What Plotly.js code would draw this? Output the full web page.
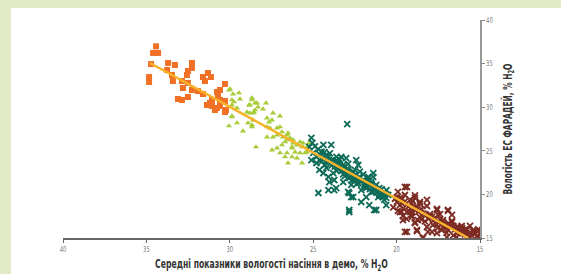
<!DOCTYPE html>
<html>
<head>
<meta charset="utf-8">
<script src="https://cdn.plot.ly/plotly-3.0.1.min.js"></script>
<style>
html,body{margin:0;padding:0;}
body{width:561px;height:274px;background:#e2ebc5;position:relative;overflow:hidden;}
#chart{position:absolute;left:11px;top:8px;width:550px;height:266px;background:#fff;}
</style>
</head>
<body>
<div id="chart"></div>
<script>
// Orange squares
const orangeX = [34.42,34.60,34.30,34.72,34.84,34.84,33.70,33.29,33.76,32.27,32.27,33.47,33.41,32.87,32.57,32.51,32.51,32.81,32.27,33.11,32.87,32.51,31.91,31.61,31.61,31.31,31.13,31.49,30.29,30.59,30.77,30.71,30.59,31.07,31.19,31.37,31.07,30.77,30.59,30.29,30.23,30.89,30.29];
const orangeY = [36.98,36.22,36.22,34.95,33.46,32.89,35.07,34.84,34.27,35.07,34.50,33.69,33.00,33.00,33.69,34.15,32.78,32.20,31.97,30.94,30.83,31.17,31.86,31.51,33.46,33.92,33.46,33.00,32.66,31.97,31.74,31.28,30.83,30.83,30.48,30.25,30.14,29.91,30.14,30.71,29.68,29.68,29.45];
// Green triangles
const greenX = [29.99,29.45,29.81,28.67,29.75,29.39,28.49,28.85,27.83,28.01,28.31,28.97,28.79,28.55,29.87,29.57,30.05,29.21,28.91,28.61,28.67,28.67,27.77,27.47,27.65,27.41,26.99,27.77,27.59,27.17,26.99,26.87,27.17,27.41,27.77,28.43,26.81,26.51,26.57,26.21,25.97,25.79,25.61,26.27,26.87,27.17,27.47,26.99,26.57,25.79,25.37,25.97,26.27,26.69,26.57,26.69,26.39,26.21,25.91,25.67,25.61,25.37,25.31,25.49,26.09,26.27,26.51,25.67,25.25,30.05,29.87,28.67,28.37,29.87,29.57,28.79,28.49,28.61,29.87];
const greenY = [32.09,31.63,31.51,31.06,30.60,30.94,30.48,30.25,30.48,29.79,30.02,29.45,29.33,29.45,28.88,28.19,27.85,27.27,28.19,28.53,27.96,27.73,28.76,28.53,28.30,29.33,28.99,27.73,27.61,27.61,27.73,27.16,26.81,26.58,26.58,25.44,26.58,27.04,26.24,26.24,25.67,26.01,25.44,25.32,25.67,25.32,25.09,24.75,24.75,24.75,24.86,24.17,24.29,24.29,26.81,26.01,26.47,25.89,25.67,25.44,25.89,25.44,25.09,24.75,24.86,25.44,23.60,23.60,25.89,31.97,30.83,30.83,30.48,30.25,29.91,30.25,29.68,29.33,28.99];
// Teal crosses
const tealX = [25.11,24.39,23.92,25.23,24.99,24.33,24.21,25.11,24.81,24.51,24.03,23.32,23.02,22.42,22.30,23.50,23.20,23.44,22.90,22.60,24.21,24.63,24.39,24.09,23.80,23.74,24.03,24.09,23.62,24.69,23.20,22.84,22.54,22.24,22.00,21.94,21.70,21.40,21.52,21.22,21.82,22.12,22.72,22.84,22.60,21.82,21.52,21.04,20.80,21.10,20.74,20.62,20.50,21.64,21.22,22.84,22.12,22.96,23.74,22.90,22.72,22.84,21.34,21.04,20.62,21.40,25.05,24.70,24.50,24.10,23.80,23.60,23.30,23.00,22.80,22.50,22.20,21.90,21.60,21.30,21.00,20.70,24.80,24.60,24.30,23.90,23.60,23.10,22.70,22.40,21.90,21.40,20.90,20.60,24.00,23.40,22.90,22.20,21.70,24.90,24.60,24.40,24.20,23.90,23.70,23.50,23.30,23.10,22.90,22.70,22.60,22.40,22.30,22.10,21.90,21.80,21.60,21.50,21.30,21.20,21.00,20.90,20.80,23.20,22.50,21.70,24.50,23.60,22.00];
const tealY = [26.47,25.67,25.67,25.44,24.75,24.86,24.52,23.94,23.60,23.72,23.72,24.29,24.17,23.94,23.37,23.60,23.37,23.03,22.80,22.57,23.03,22.80,22.45,22.00,22.45,21.65,21.42,20.50,20.73,20.16,21.42,21.88,21.65,22.00,21.65,21.08,22.00,22.45,21.42,21.08,20.73,20.50,21.08,20.16,19.70,19.70,20.28,20.73,20.16,19.70,19.36,18.78,19.93,18.78,18.21,18.21,19.13,28.07,20.50,20.28,19.70,17.98,18.21,19.93,19.59,22.00,25.90,25.20,24.90,24.30,24.00,23.90,23.00,22.90,22.40,22.20,21.90,21.40,21.00,20.70,20.40,20.10,24.30,23.90,23.40,23.30,22.70,22.10,21.60,21.20,20.90,20.30,19.80,20.50,24.70,24.00,23.50,22.60,21.80,25.50,24.60,24.00,23.80,23.90,23.20,23.30,22.70,23.20,22.60,22.30,22.00,21.80,21.30,21.50,21.20,20.80,20.60,21.20,20.90,20.20,20.00,20.60,19.70,22.30,22.80,21.50,24.20,24.30,22.30];
// Dark red crosses
const redX = [19.92,19.38,19.50,19.98,19.80,19.20,18.90,18.60,18.18,19.80,19.38,18.90,19.08,19.62,18.72,18.30,17.88,17.58,17.52,16.92,16.68,17.22,16.68,16.38,16.08,15.78,15.42,15.12,15.18,15.60,16.02,16.38,16.92,17.22,17.52,17.58,18.18,18.12,18.78,19.38,18.90,18.42,16.98,17.82,19.50,19.98,19.68,19.02,18.60,18.18,19.92,19.62,19.08,18.90,19.50,18.78,18.42,18.00,17.58,17.40,16.92,16.68,17.22,16.98,16.32,15.60,16.08,15.78,15.18,15.12,17.88,19.70,19.30,19.00,18.70,18.40,18.10,17.80,17.50,17.10,16.80,16.50,16.20,15.90,15.50,15.30,16.60,17.30,18.30,19.20,19.60,20.10,20.20,19.40,18.60,17.00,15.90,15.00,15.10,16.40,19.80,19.50,19.10,18.80,18.50,18.00,17.70,17.40,16.90,16.60,16.10,15.80,15.40,15.60,16.30,17.60,18.50,19.10,19.70,18.90];
const redY = [20.28,20.85,19.93,19.13,18.78,19.36,19.59,19.13,19.36,17.98,17.98,18.21,17.41,17.06,17.06,17.64,17.41,18.21,17.64,18.21,17.64,17.06,16.83,16.26,16.15,15.92,15.69,15.92,15.11,15.11,15.57,15.57,15.92,16.26,16.15,15.57,16.26,15.69,15.92,15.69,16.72,15.11,15.11,16.49,20.85,19.70,19.47,19.24,18.90,18.67,18.10,17.52,17.98,16.83,15.69,15.80,15.00,17.75,18.33,17.75,18.10,16.95,16.83,16.26,16.26,16.38,15.80,15.46,15.80,15.23,15.69,19.00,18.60,18.40,18.00,17.80,17.20,17.00,16.80,16.50,16.30,16.00,15.70,15.40,15.30,15.50,15.30,15.90,16.90,18.00,18.40,19.50,18.50,17.20,17.40,15.60,16.00,15.40,16.00,15.10,19.60,19.20,18.90,18.60,18.30,17.50,17.30,17.10,16.70,16.40,16.40,16.00,15.90,15.60,15.90,16.60,17.10,17.60,18.00,19.90];
// Trend line
const trendX = [34.78, 15.70];
const trendY = [35.07, 15.00];
const xTicks = [40, 35, 30, 25, 20, 15];
const yTicks = [15, 20, 25, 30, 35, 40];

const F = '"Liberation Sans Narrow", "DejaVu Sans Condensed", "Roboto", sans-serif';

const traces = [
  {x: orangeX, y: orangeY, mode: 'markers', type: 'scatter',
   marker: {symbol: 'square', size: 6, color: '#f07026'}},
  {x: greenX, y: greenY, mode: 'markers', type: 'scatter',
   marker: {symbol: 'triangle-up', size: 5.5, color: '#a8cc3a'}},
  {x: tealX, y: tealY, mode: 'markers', type: 'scatter',
   marker: {symbol: 'x-thin', size: 6, color: '#0d6b58', line: {color: '#0d6b58', width: 1.8}}},
  {x: redX, y: redY, mode: 'markers', type: 'scatter',
   marker: {symbol: 'x-thin', size: 6, color: '#7c2b23', line: {color: '#7c2b23', width: 1.8}}},
  {x: trendX, y: trendY, mode: 'lines', type: 'scatter',
   line: {color: '#f8b229', width: 2.5}}
];

const layout = {
  width: 550, height: 266,
  margin: {l: 52, r: 81, t: 12, b: 36},
  paper_bgcolor: '#ffffff', plot_bgcolor: '#ffffff',
  showlegend: false,
  font: {family: F, color: '#555'},
  xaxis: {
    range: [40, 15], tickvals: xTicks, ticktext: xTicks.map(String),
    showgrid: false, zeroline: false, showline: true, linecolor: '#666', linewidth: 1.5,
    ticks: 'outside', ticklen: 3, tickcolor: '#666', tickwidth: 1,
    tickfont: {size: 8, color: '#777', family: F},
    title: {text: 'Середні показники вологості насіння в демо, % H<sub>2</sub>O', font: {size: 12.5, color: '#333', family: F, weight: 'bold'}, standoff: 6}
  },
  yaxis: {
    side: 'right', range: [15, 40], tickvals: yTicks, ticktext: yTicks.map(String),
    showgrid: false, zeroline: false, showline: true, linecolor: '#999', linewidth: 1.5,
    ticks: 'outside', ticklen: 3, tickcolor: '#888', tickwidth: 1,
    tickfont: {size: 8, color: '#777', family: F},
    title: {text: 'Вологість ЕС ФАРАДЕЙ, % H<sub>2</sub>O', font: {size: 12.5, color: '#333', family: F, weight: 'bold'}, standoff: 8}
  }
};

function squeeze(el, s) {
  const x = parseFloat(el.getAttribute('x')) || 0;
  const y = parseFloat(el.getAttribute('y')) || 0;
  const t = el.getAttribute('transform') || '';
  el.setAttribute('transform', t + ' translate(' + x + ',' + y + ') scale(' + s + ',1) translate(' + (-x) + ',' + (-y) + ')');
}
function fitWidth(el, target) {
  const w = el.getBBox().width;
  if (w > 0) squeeze(el, target / w);
}

Plotly.newPlot('chart', traces, layout, {displayModeBar: false, staticPlot: true}).then(function (gd) {
  const xt = gd.querySelector('.xtitle');
  const yt = gd.querySelector('.ytitle');
  if (xt) fitWidth(xt, 233);
  if (yt) fitWidth(yt, 131);
  gd.querySelectorAll('.xtick text, .ytick text').forEach(function (t) { squeeze(t, 0.72); });
});
</script>
</body>
</html>
